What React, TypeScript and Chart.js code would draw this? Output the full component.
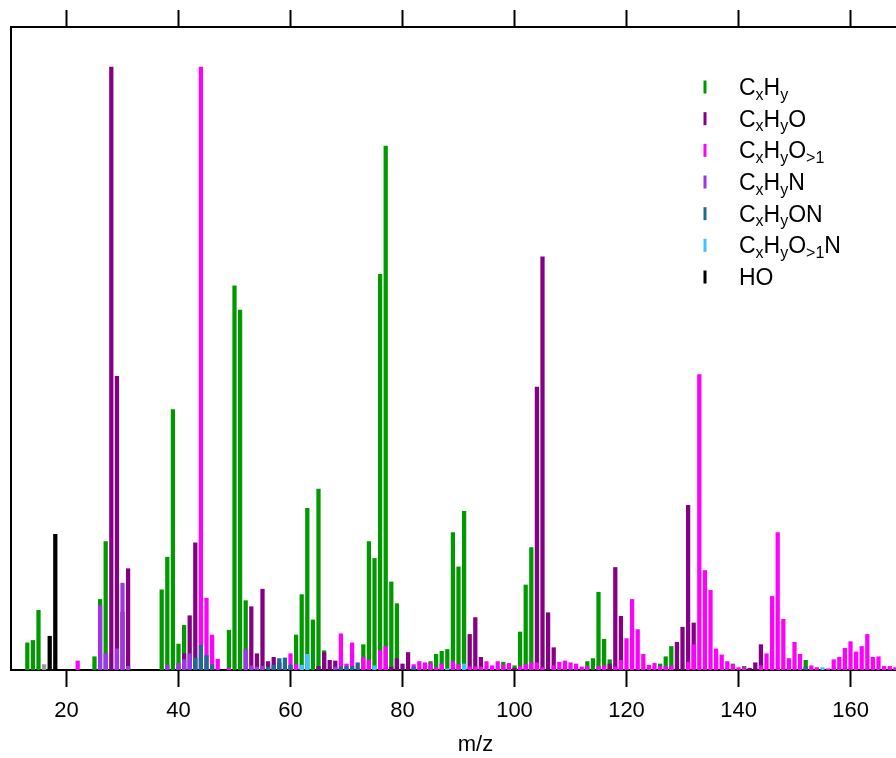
import React, { useEffect, useRef } from "react";
import { Chart, registerables } from "chart.js";
Chart.register(...registerables);

// ---- data (relative intensity, % of base peak) ----
const mzCxHy = [13, 14, 15, 25, 26, 27, 37, 38, 39, 40, 41, 49, 50, 51, 52, 61, 62, 63, 64, 65, 66, 73, 74, 75, 76, 77, 78, 79, 85, 86, 87, 88, 89, 90, 91, 98, 100, 101, 102, 103, 113, 114, 115, 116, 117, 126, 127, 128, 139, 141, 152];
const intCxHy = [4.5, 4.9, 9.9, 2.2, 11.7, 21.3, 13.3, 18.7, 43.2, 4.3, 7.4, 6.6, 63.7, 59.7, 11.5, 5.8, 12.5, 26.8, 8.3, 30.0, 3.2, 4.2, 21.3, 18.5, 65.6, 86.9, 14.6, 11.0, 1.4, 2.6, 3.1, 3.4, 22.8, 17.1, 26.3, 1.3, 0.7, 6.3, 14.1, 20.3, 1.4, 1.9, 12.9, 5.1, 1.7, 1.0, 2.2, 3.9, 1.0, 0.6, 1.6];

const mzCxHyO = [28, 29, 30, 31, 41, 42, 43, 53, 54, 55, 56, 57, 58, 65, 66, 67, 68, 78, 79, 80, 81, 92, 93, 94, 100, 104, 105, 106, 107, 117, 118, 119, 129, 130, 131, 132, 142, 143, 144];
const intCxHyO = [100, 48.7, 9.6, 16.8, 2.7, 9.0, 21.1, 10.5, 2.7, 13.4, 1.4, 2.1, 1.2, 0.6, 2.9, 1.6, 1.5, 0.5, 1.9, 1.0, 2.9, 5.9, 8.7, 2.1, 0.3, 46.9, 68.5, 9.5, 3.7, 1.0, 17.0, 8.9, 4.6, 7.1, 27.3, 7.8, 0.3, 1.2, 4.2];

const mzCxHyO2 = [22, 44, 45, 46, 47, 49, 60, 61, 69, 70, 71, 73, 74, 76, 77, 82, 83, 84, 85, 86, 87, 89, 90, 92, 93, 94, 95, 96, 97, 98, 99, 101, 102, 103, 104, 105, 107, 108, 109, 110, 111, 112, 113, 115, 116, 118, 119, 120, 121, 122, 123, 124, 125, 126, 127, 128, 131, 132, 133, 134, 135, 136, 137, 138, 139, 140, 141, 144, 145, 146, 147, 148, 149, 150, 151, 153, 154, 156, 157, 158, 159, 160, 161, 162, 163, 164, 165, 166, 167, 168];
const intCxHyO2 = [1.5, 100, 11.9, 5.8, 1.8, 0.3, 2.7, 0.9, 6.0, 1.0, 4.5, 2.1, 1.6, 3.2, 3.9, 0.9, 1.4, 1.2, 1.1, 0.4, 1.0, 1.4, 0.9, 0.5, 0.5, 0.5, 1.4, 0.7, 1.4, 0.8, 1.1, 0.6, 0.9, 1.2, 1.2, 0.4, 0.7, 1.3, 1.5, 1.2, 1.0, 0.5, 0.6, 0.6, 0.7, 0.5, 1.6, 5.2, 11.7, 6.7, 2.6, 0.8, 1.1, 0.6, 0.6, 0.7, 1.3, 4.2, 49.0, 16.5, 13.2, 3.5, 2.5, 1.4, 0.9, 0.4, 0.4, 0.7, 2.7, 12.2, 22.8, 8.4, 1.9, 4.6, 2.6, 0.7, 0.4, 0.2, 1.7, 2.1, 3.6, 4.7, 3.0, 3.9, 5.9, 2.1, 2.2, 0.6, 0.6, 0.4];

const mzCxHyN = [26, 27, 29, 30, 31, 38, 40, 41, 42, 52, 53, 54, 55, 68];
const intCxHyN = [10.7, 2.7, 3.5, 14.4, 0.6, 0.8, 1.1, 1.7, 2.7, 3.4, 0.7, 0.5, 0.6, 0.5];

const mzCxHyON = [43, 44, 45, 46, 56, 57, 58, 59, 60, 69, 70, 71, 72, 82, 152];
const intCxHyON = [2.0, 4.1, 2.4, 0.9, 0.5, 0.8, 1.9, 2.0, 0.8, 0.5, 0.6, 0.6, 1.2, 0.5, 0.5];

const mzCxHyO2N = [62, 63, 75, 88, 91, 155];
const intCxHyO2N = [0.8, 2.6, 0.7, 0.2, 1.0, 0.4];

const mzHO = [16, 17, 18];
const intHO = [0.9, 5.6, 22.5];

const xTickStep = 20;
const xMin = 10.09;
const xMax = 175.98;
const yMax = 106.63;

type Part = [string, number];
const SERIES: { parts: Part[]; mz: number[]; val: number[]; color: string }[] = [
  { parts: [["C", 0], ["x", 1], ["H", 0], ["y", 1]], mz: mzCxHy, val: intCxHy, color: "#009A00" },
  { parts: [["C", 0], ["x", 1], ["H", 0], ["y", 1], ["O", 0]], mz: mzCxHyO, val: intCxHyO, color: "#850085" },
  { parts: [["C", 0], ["x", 1], ["H", 0], ["y", 1], ["O", 0], [">1", 1]], mz: mzCxHyO2, val: intCxHyO2, color: "#FF00FF" },
  { parts: [["C", 0], ["x", 1], ["H", 0], ["y", 1], ["N", 0]], mz: mzCxHyN, val: intCxHyN, color: "#A035E8" },
  { parts: [["C", 0], ["x", 1], ["H", 0], ["y", 1], ["ON", 0]], mz: mzCxHyON, val: intCxHyON, color: "#1F6A93" },
  { parts: [["C", 0], ["x", 1], ["H", 0], ["y", 1], ["O", 0], [">1", 1], ["N", 0]], mz: mzCxHyO2N, val: intCxHyO2N, color: "#3FC3FF" },
  { parts: [["HO", 0]], mz: mzHO, val: intHO, color: "#000000" },
];

const FONT = "'Liberation Sans', Arial, sans-serif";

const legendPlugin = {
  id: "formulaLegend",
  afterDraw(chart: any) {
    const ctx = chart.ctx as CanvasRenderingContext2D;
    ctx.save();
    SERIES.forEach((s, i) => {
      const base = 95 + i * 31.67;
      ctx.fillStyle = s.color;
      ctx.fillRect(703.5, base - 14.5, 3, 13);
      let x = 739;
      ctx.fillStyle = "#000";
      ctx.textBaseline = "alphabetic";
      ctx.textAlign = "left";
      s.parts.forEach(([t, sub]) => {
        ctx.font = sub ? `16px ${FONT}` : `23px ${FONT}`;
        ctx.fillText(t, x, sub ? base + 4.5 : base);
        x += ctx.measureText(t).width;
      });
    });
    ctx.restore();
  },
};

export default function App() {
  const ref = useRef<HTMLCanvasElement | null>(null);
  useEffect(() => {
    if (!ref.current) return;
    const datasets = SERIES.map((s, i) => ({
      label: s.parts.map((p) => p[0]).join(""),
      data: s.mz.map((m, k) => ({ x: m, y: s.val[k] })),
      backgroundColor: s.mz.map((m) => (s.parts[0][0] === "HO" && m === 16 ? "#9a9a9a" : s.color)),
      borderWidth: 0,
      barThickness: 3.6,
      grouped: false,
      order: 10 - i,
    }));
    const chart = new Chart(ref.current, {
      type: "bar",
      data: { datasets },
      options: {
        animation: false,
        responsive: false,
        maintainAspectRatio: false,
        devicePixelRatio: 1,
        layout: { padding: { left: 0, right: 20, top: 0, bottom: 0 } },
        plugins: { legend: { display: false }, tooltip: { enabled: false } },
        scales: {
          x: {
            type: "linear",
            position: "bottom",
            min: xMin,
            max: xMax,
            offset: false,
            afterFit: (s: any) => { s.height = 88; },
            grid: { offset: false, drawOnChartArea: false, drawTicks: true, tickLength: 17, tickWidth: 2, tickColor: "#000" },
            border: { display: true, color: "#000", width: 2 },
            ticks: { stepSize: xTickStep, includeBounds: false, autoSkip: false, maxRotation: 0, padding: 11, color: "#000", font: { family: FONT, size: 22 } },
            title: { display: true, text: "m/z", color: "#000", font: { family: FONT, size: 22 }, padding: { top: 0, bottom: 0 } },
          },
          x2: {
            type: "linear",
            position: "top",
            min: xMin,
            max: xMax,
            offset: false,
            afterFit: (s: any) => { s.height = 27; },
            grid: { offset: false, drawOnChartArea: false, drawTicks: true, tickLength: 17, tickWidth: 2, tickColor: "#000" },
            border: { display: true, color: "#000", width: 2 },
            ticks: { display: false, stepSize: xTickStep, includeBounds: false, autoSkip: false },
          },
          y: {
            type: "linear",
            position: "left",
            min: 0,
            max: yMax,
            afterFit: (s: any) => { s.width = 11; },
            grid: { display: false },
            border: { display: true, color: "#000", width: 2 },
            ticks: { display: false },
          },
        },
      },
      plugins: [legendPlugin],
    } as any);
    return () => chart.destroy();
  }, []);
  return (
    <div style={{ position: "absolute", left: 0, top: 0, width: 896, height: 758, overflow: "hidden", background: "#fff" }}>
      <canvas ref={ref} width={960} height={758} style={{ display: "block", width: 960, height: 758 }} />
    </div>
  );
}
